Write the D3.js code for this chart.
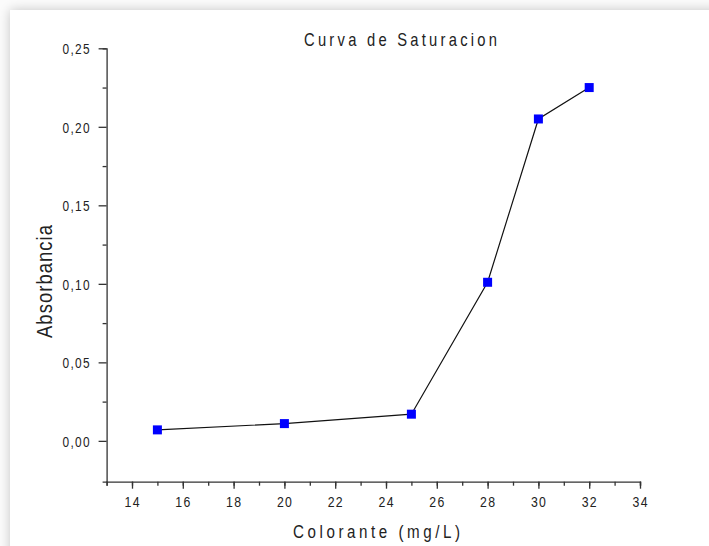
<!DOCTYPE html>
<html>
<head>
<meta charset="utf-8">
<script src="https://cdn.jsdelivr.net/npm/d3@7"></script>
<style>
  html, body { margin: 0; padding: 0; background: #ffffff; }
  svg { display: block; }
  text { font-family: "Liberation Sans", Arial, sans-serif; }
</style>
</head>
<body>
<svg id="chart" width="709" height="546"></svg>
<script>
// ---- data ----
const concentrations = [15, 20, 25, 28, 30, 32];
const absorbance = [0.007, 0.011, 0.017, 0.101, 0.205, 0.225];
const xTickValues = [14, 16, 18, 20, 22, 24, 26, 28, 30, 32, 34];
const yTickValues = [0.00, 0.05, 0.10, 0.15, 0.20, 0.25];
const titleText = "Curva de Saturacion";
const xAxisTitle = "Colorante (mg/L)";
const yAxisTitle = "Absorbancia";

const svg = d3.select("#chart");
const W = 709, H = 546;
const SX = 0.82; // horizontal condensing to mimic a narrow font

// background frame / shadow
const defs = svg.append("defs");
const f = defs.append("filter").attr("id", "shadow")
  .attr("x", -0.1).attr("y", -0.1).attr("width", 1.3).attr("height", 1.3);
f.append("feGaussianBlur").attr("in", "SourceAlpha").attr("stdDeviation", 6).attr("result", "b");
f.append("feComponentTransfer").attr("in", "b").attr("result", "c")
  .append("feFuncA").attr("type", "linear").attr("slope", 0.22);
const m = f.append("feMerge");
m.append("feMergeNode").attr("in", "c");
m.append("feMergeNode").attr("in", "SourceGraphic");

svg.append("rect").attr("x", 0).attr("y", 0).attr("width", W).attr("height", H).attr("fill", "#fbfbfb");
svg.append("rect").attr("x", 10).attr("y", 10).attr("width", W + 20).attr("height", H + 20)
  .attr("fill", "#ffffff").attr("filter", "url(#shadow)");

// scales
const x = d3.scaleLinear().domain([13, 34]).range([106.6, 640]);
const y = d3.scaleLinear().domain([-0.026, 0.25]).range([481.7, 48.3]);

const axisColor = "#333";
const textColor = "#222";

// X axis
const xAxisG = svg.append("g").attr("transform", `translate(0,${y(-0.026)})`);
xAxisG.call(d3.axisBottom(x).tickValues(d3.range(13, 35, 1)).tickSize(4).tickFormat(""));
xAxisG.selectAll(".tick line").attr("stroke", axisColor).attr("stroke-width", 1.3);
xAxisG.select(".domain").attr("stroke", axisColor).attr("stroke-width", 1.3);
const xMajor = svg.append("g").attr("transform", `translate(0,${y(-0.026)})`)
  .call(d3.axisBottom(x).tickValues(xTickValues).tickSize(7).tickFormat(d3.format("d")));
xMajor.select(".domain").remove();
xMajor.selectAll(".tick line").attr("stroke", axisColor).attr("stroke-width", 1.3);
xMajor.selectAll(".tick text")
  .attr("fill", textColor).attr("font-size", 15)
  .attr("x", 0).attr("y", 0).attr("dy", 0)
  .attr("transform", `translate(-0.5,25) scale(${SX},1)`)
  .attr("textLength", 15 / SX).attr("lengthAdjust", "spacing");

// Y axis
const yMinor = svg.append("g").attr("transform", `translate(${x(13)},0)`)
  .call(d3.axisLeft(y).tickValues([0.025, 0.075, 0.125, 0.175, 0.225]).tickSize(4).tickFormat(""));
yMinor.select(".domain").attr("stroke", axisColor).attr("stroke-width", 1.3);
yMinor.selectAll(".tick line").attr("stroke", axisColor).attr("stroke-width", 1.3);
const yMajor = svg.append("g").attr("transform", `translate(${x(13)},0)`)
  .call(d3.axisLeft(y).tickValues(yTickValues).tickSize(8)
    .tickFormat(d => d3.format(".2f")(d).replace(".", ",")));
yMajor.select(".domain").remove();
yMajor.selectAll(".tick line").attr("stroke", axisColor).attr("stroke-width", 1.3);
yMajor.selectAll(".tick text")
  .attr("fill", textColor).attr("font-size", 14.5)
  .attr("x", 0).attr("dy", 0).attr("y", 0)
  .attr("text-anchor", "end")
  .attr("transform", `translate(-17,5.2) scale(${SX},1)`)
  .attr("textLength", 27 / SX).attr("lengthAdjust", "spacing");

// line
const pts = concentrations.map((c, i) => [c, absorbance[i]]);
svg.append("path").datum(pts)
  .attr("fill", "none").attr("stroke", "#111").attr("stroke-width", 1.2)
  .attr("d", d3.line().x(d => x(d[0])).y(d => y(d[1])));

// markers
const ms = 9;
svg.append("g").selectAll("rect").data(pts).join("rect")
  .attr("x", d => x(d[0]) - ms / 2).attr("y", d => y(d[1]) - ms / 2)
  .attr("width", ms).attr("height", ms).attr("fill", "#0000ff");

// titles (condensed with scale, spacing fitted via textLength)
function narrowText(txt, tx, ty, size, width, rot) {
  svg.append("text")
    .attr("transform", `translate(${tx},${ty})${rot ? " rotate(-90)" : ""} scale(${SX},1)`)
    .attr("x", 0).attr("y", 0).attr("text-anchor", "middle")
    .attr("font-size", size).attr("fill", textColor)
    .attr("textLength", width / SX).attr("lengthAdjust", "spacing")
    .text(txt);
}
narrowText(titleText, 400.5, 46, 18, 193, false);
narrowText(xAxisTitle, 376.5, 538, 18.5, 167, false);
narrowText(yAxisTitle, 51.7, 281.5, 22.5, 113, true);
</script>
</body>
</html>
